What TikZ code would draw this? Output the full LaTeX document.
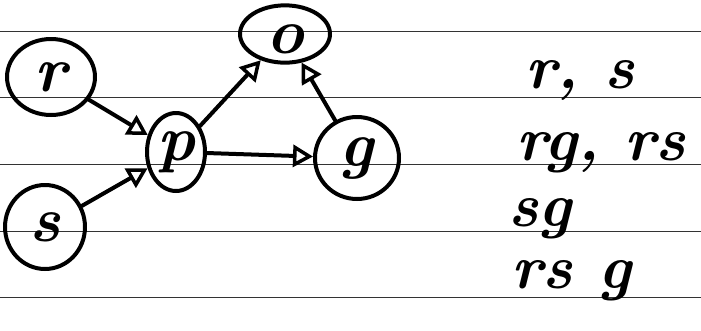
\documentclass[tikz,border=0pt]{standalone}
\usetikzlibrary{arrows.meta, shapes.geometric}

\begin{document}
\begin{tikzpicture}[
    x=1pt, y=-1pt,
    every node/.style={font=\fontsize{64}{64}\selectfont\bfseries\itshape},
    pen/.style={line width=4pt, line cap=round, line join=round},
    rule/.style={line width=1pt, black!80},
    state/.style={pen, draw, ellipse, inner sep=0pt},
    link/.style={pen, -{Triangle[open, length=20pt, width=22pt, line width=3.5pt]}},
    note/.style={anchor=base west, font=\fontsize{62}{62}\selectfont\bfseries\itshape}
  ]

  \useasboundingbox (0,0) rectangle (701,330);

  % ruled paper
  \foreach \y in {31,97,164,231,297}
    \draw [rule] (0,\y) -- (701,\y);

  % graph
  \node [state, minimum width=88pt, minimum height=76pt] (r) at (51,77) {r};
  \node [state, minimum width=80pt, minimum height=84pt] (s) at (45,227) {s};
  \node [state, minimum width=58pt, minimum height=78pt] (p) at (176,152) {p};
  \node [state, minimum width=90pt, minimum height=56pt, text height=40pt] (o) at (285,34) {o};
  \node [state, minimum width=84pt, minimum height=82pt] (g) at (357,158) {g};

  \draw [link] (r) -- (p);
  \draw [link] (s) -- (p);
  \draw [link] (p) -- (o);
  \draw [link] (g) -- (o);
  \draw [link] (p) -- (g);

  % notes
  \node [note] (n1) at (522,88) {r, s};
  \node [note] (n2) at (513,160) {rg, rs};
  \node [note] (n3) at (505,226) {sg};
  \node [note] (n4) at (508,288) {rs g};

\end{tikzpicture}
\end{document}
